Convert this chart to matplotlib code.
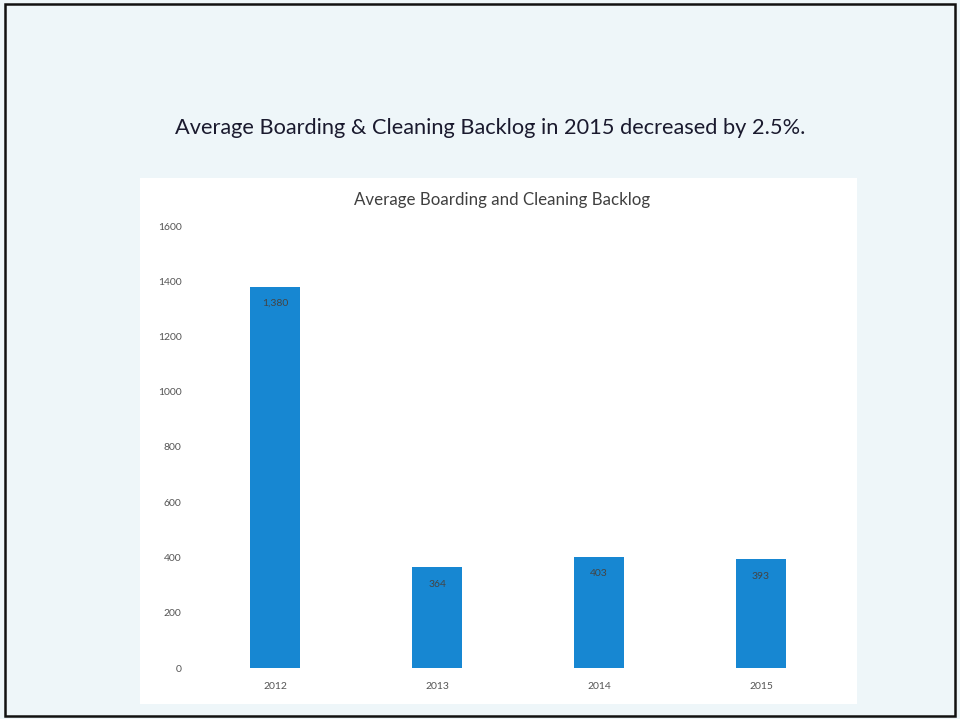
import matplotlib
matplotlib.use("Agg")
import matplotlib.pyplot as plt
from matplotlib.patches import Rectangle

years = ["2012", "2013", "2014", "2015"]
backlog = [1380, 364, 403, 393]
value_labels = ["1,380", "364", "403", "393"]
yticks = [0, 200, 400, 600, 800, 1000, 1200, 1400, 1600]

slide_title = "Average Boarding & Cleaning Backlog in 2015 decreased by 2.5%."
chart_title = "Average Boarding and Cleaning Backlog"

plt.rcParams['font.family'] = ['Lato', 'DejaVu Sans']

W, H = 960, 719
fig = plt.figure(figsize=(W / 100, H / 100), dpi=100)
fig.patch.set_facecolor("#eef6f9")

def fx(px):
    return px / W

def fy(py):
    return 1 - py / H

# white chart area
fig.patches.append(Rectangle((fx(140), fy(704)), fx(857) - fx(140), fy(178) - fy(704),
                             transform=fig.transFigure, facecolor="white", edgecolor="none", zorder=-2))
# outer border
fig.patches.append(Rectangle((fx(5), fy(716)), fx(955) - fx(5), fy(4) - fy(716),
                             transform=fig.transFigure, facecolor="none", edgecolor="#111111",
                             linewidth=1.8, zorder=5))

ax = fig.add_axes([fx(194), fy(668), fx(842) - fx(194), fy(226) - fy(668)])
ax.set_zorder(2)
ax.set_facecolor("none")
x = list(range(len(years)))
ax.bar(x, backlog, width=0.31, color="#1787d2")
ax.set_xlim(-0.5, 3.5)
ax.set_ylim(0, 1600)
ax.set_yticks(yticks)
ax.set_yticklabels([str(v) for v in yticks], fontsize=7.5, color="#555555")
ax.set_xticks(x)
ax.set_xticklabels(years, fontsize=7.5, color="#555555")
ax.tick_params(axis='both', length=0)
ax.tick_params(axis='y', pad=9)
ax.tick_params(axis='x', pad=10)
for s in ax.spines.values():
    s.set_visible(False)

for xi, v, lab in zip(x, backlog, value_labels):
    ax.annotate(lab, (xi, v), xytext=(0, -12), textcoords="offset points",
                ha="center", va="center", fontsize=7.5, color="#444444")

fig.text(fx(490), fy(128), slide_title, ha="center", va="center", fontsize=15.7, color="#1a1a2e", zorder=3)
fig.text(fx(502), fy(200), chart_title, ha="center", va="center", fontsize=12.2, color="#404040", zorder=3)

fig.savefig("out.png", dpi=100, facecolor=fig.get_facecolor())
